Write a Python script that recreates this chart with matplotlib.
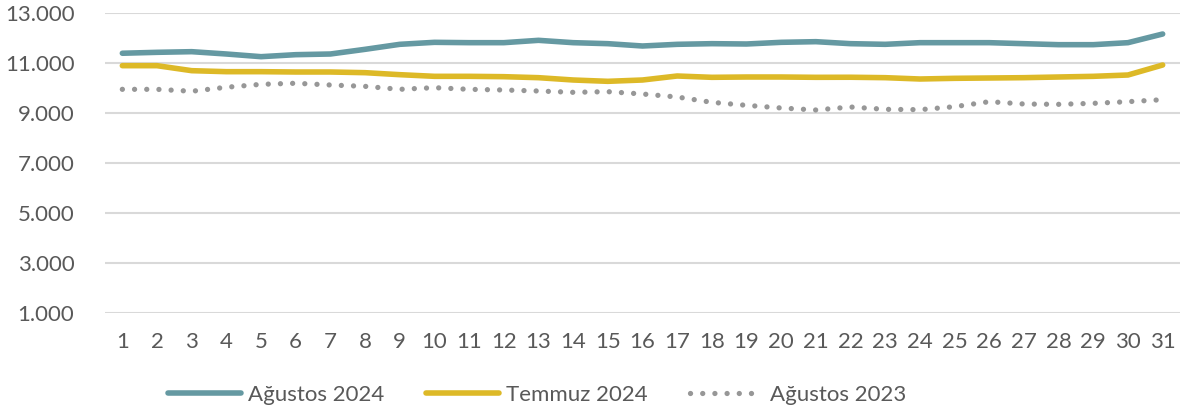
import matplotlib
matplotlib.use("Agg")
import matplotlib.pyplot as plt

days = list(range(1, 32))
day_labels = [str(d) for d in days]

agustos_2024 = [11390, 11427, 11453, 11360, 11253, 11333, 11360, 11547, 11747, 11827,
                11813, 11813, 11907, 11813, 11773, 11680, 11747, 11773, 11760, 11827,
                11853, 11773, 11747, 11813, 11813, 11813, 11773, 11733, 11733, 11813,
                12160]
temmuz_2024 = [10893, 10893, 10693, 10653, 10653, 10640, 10640, 10613, 10533, 10467,
               10467, 10453, 10413, 10320, 10267, 10320, 10480, 10427, 10440, 10440,
               10427, 10430, 10413, 10360, 10387, 10400, 10413, 10440, 10467, 10520,
               10920]
agustos_2023 = [9947, 9947, 9870, 10030, 10147, 10190, 10120, 10066, 9947, 10013,
                9947, 9920, 9880, 9827, 9853, 9760, 9640, 9427, 9307, 9200,
                9120, 9240, 9147, 9133, 9253, 9453, 9360, 9347, 9387, 9453,
                9533]

y_ticks = [1000, 3000, 5000, 7000, 9000, 11000, 13000]
y_tick_labels = ["1.000", "3.000", "5.000", "7.000", "9.000", "11.000", "13.000"]

series_names = ["Ağustos 2024", "Temmuz 2024", "Ağustos 2023"]

plt.rcParams['font.family'] = ['Lato', 'DejaVu Sans']
text_color = "#595959"

fig = plt.figure(figsize=(11.85, 4.16), dpi=100)
ax = fig.add_axes([105/1185, (416-313)/416, (1180-105)/1185, (313-13)/416])

x = list(range(len(days)))
ax.plot(x, agustos_2024, color="#6599A2", lw=4.0, solid_capstyle="round",
        label=series_names[0], zorder=3)
ax.plot(x, temmuz_2024, color="#DDB927", lw=4.0, solid_capstyle="round",
        label=series_names[1], zorder=3)
ax.plot(x, agustos_2023, color="#979797", lw=3.8, linestyle=(0, (0.01, 2.3)),
        dash_capstyle="round", label=series_names[2], zorder=3)

ax.set_xlim(-0.5, len(days) - 0.5)
ax.set_ylim(1000, 13000)
ax.set_xticks(x)
ax.set_xticklabels(day_labels)
ax.set_yticks(y_ticks)
ax.set_yticklabels(y_tick_labels)
ax.tick_params(axis="both", length=0, labelsize=16, labelcolor=text_color)
ax.tick_params(axis="x", pad=14)
ax.tick_params(axis="y", pad=22)
ax.grid(axis="y", color="#D9D9D9", lw=1.5, zorder=0)
for s in ax.spines.values():
    s.set_visible(False)

fig.legend(loc="center", bbox_to_anchor=(0.453, 0.05), ncol=3, frameon=False,
           fontsize=16, labelcolor=text_color, handlelength=3.3,
           handletextpad=0.3, columnspacing=1.9)

fig.savefig("out.png", dpi=100)
